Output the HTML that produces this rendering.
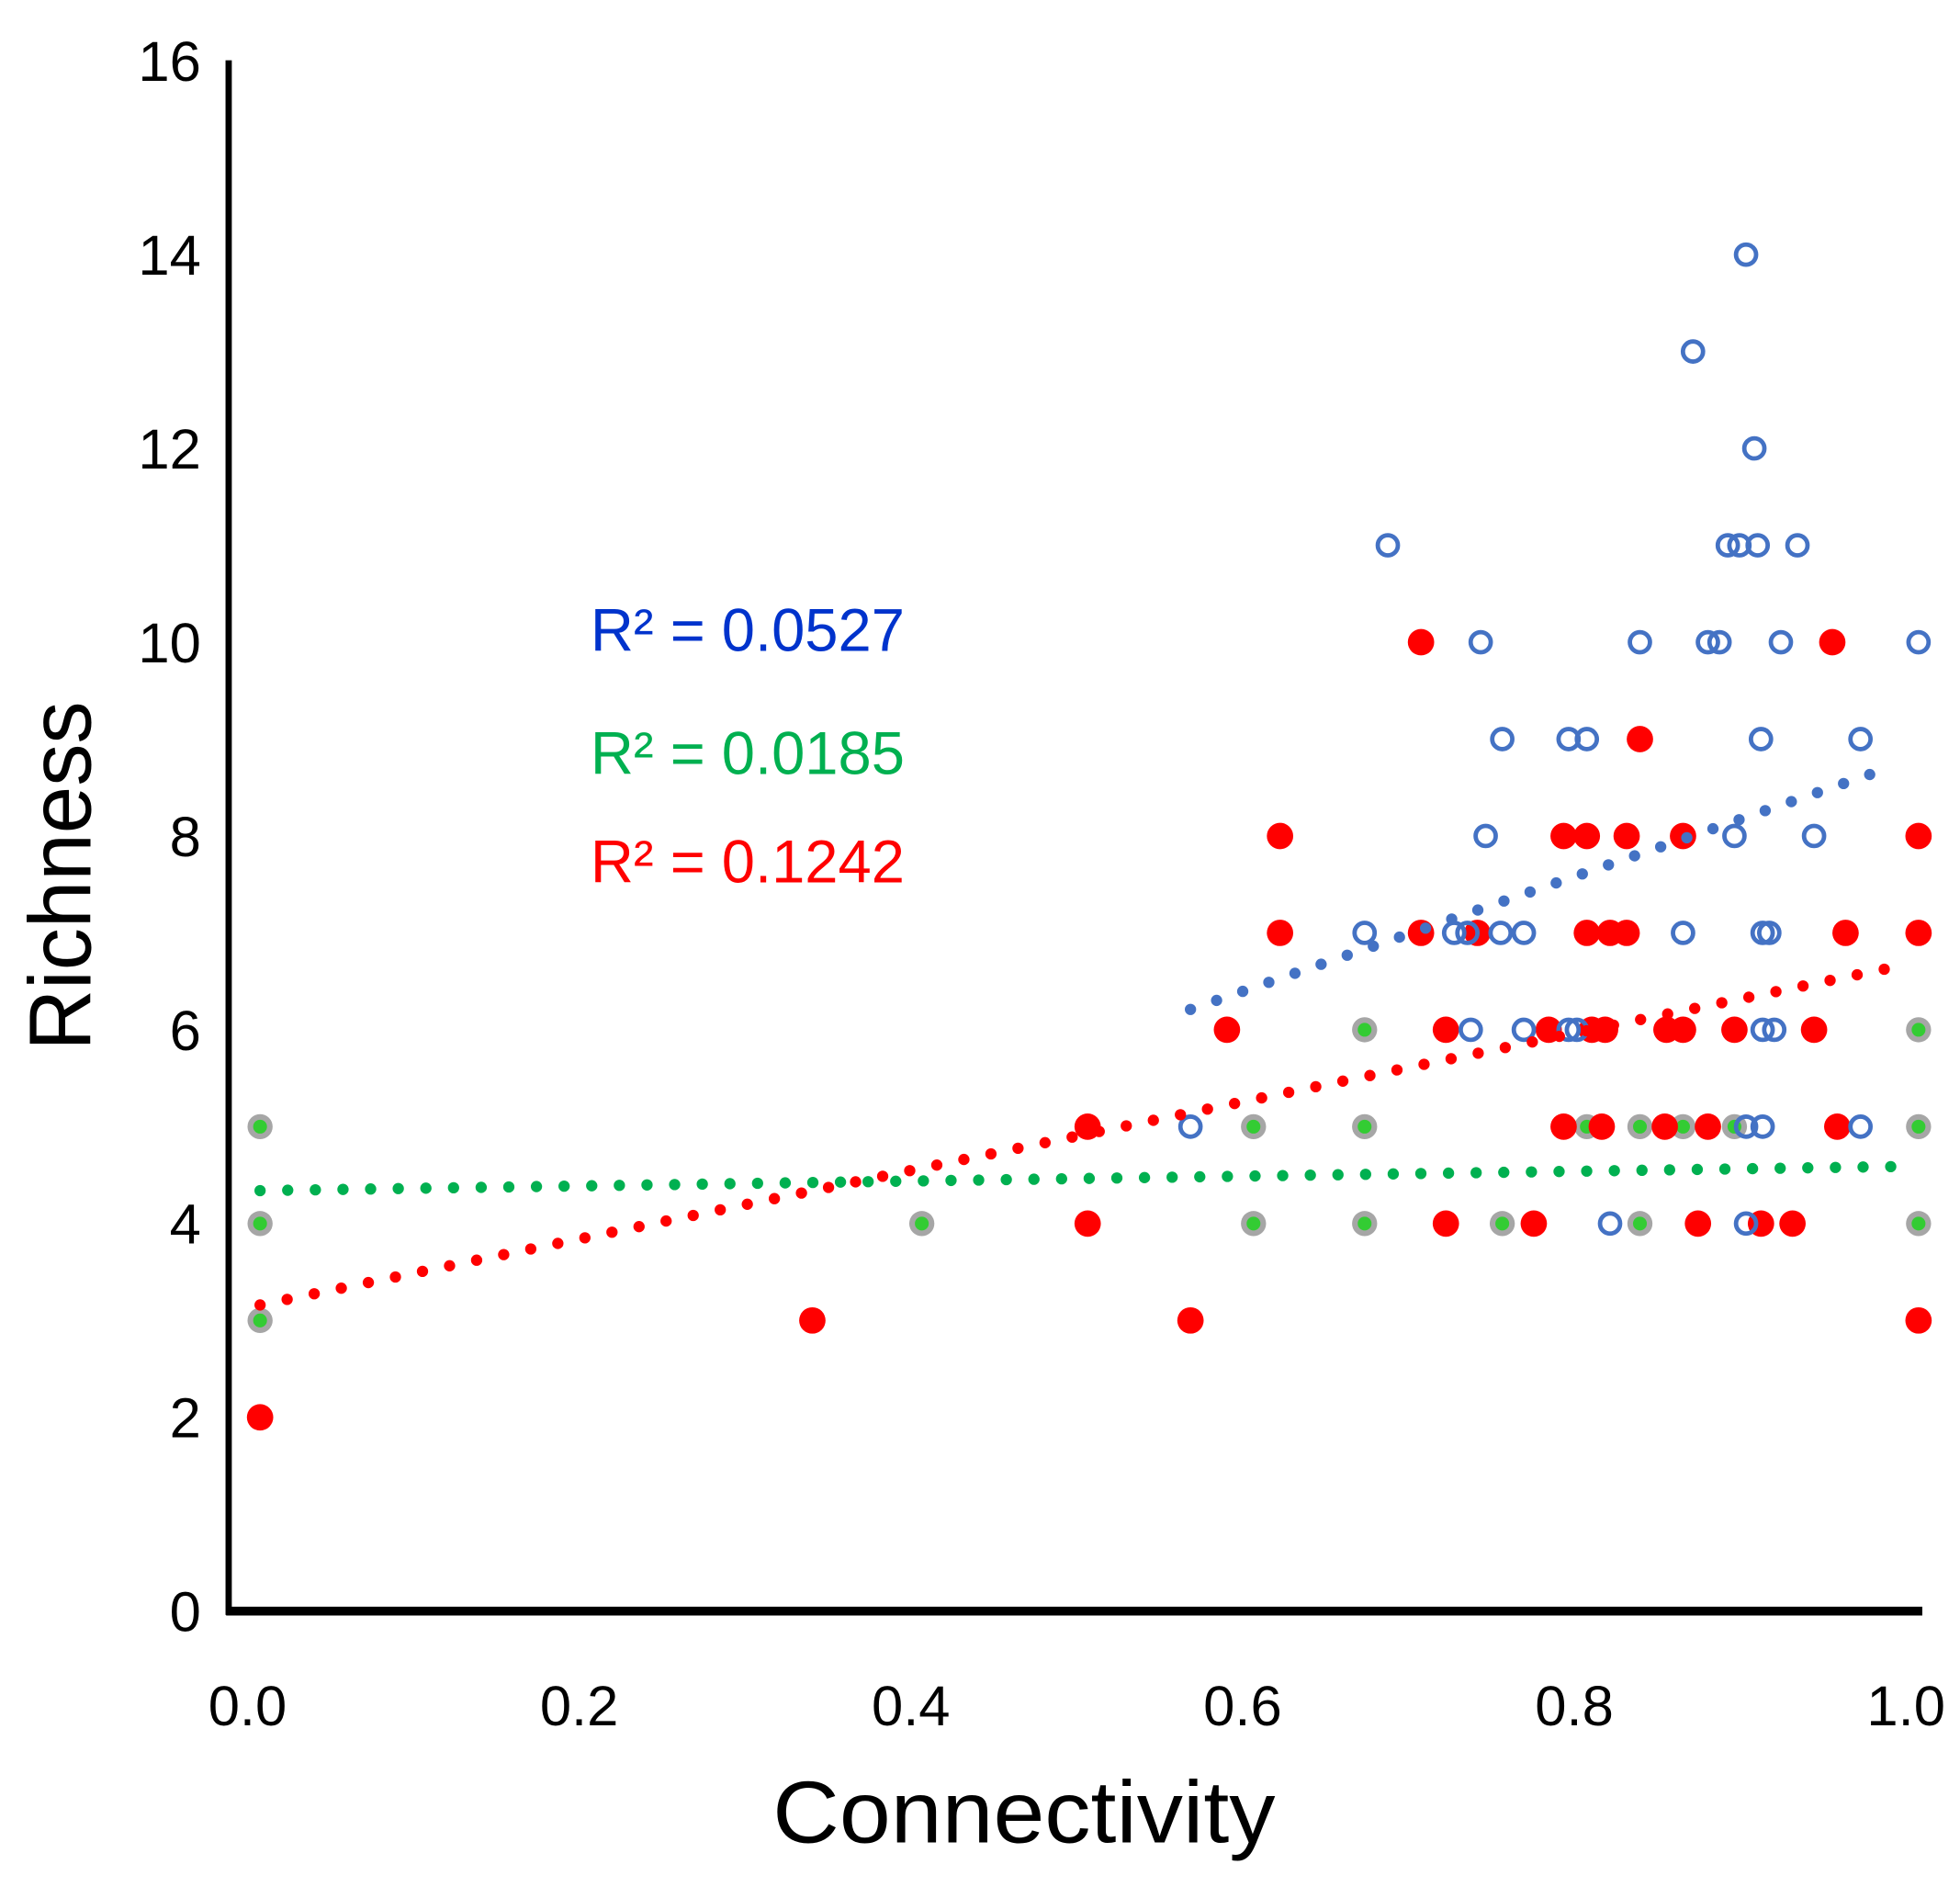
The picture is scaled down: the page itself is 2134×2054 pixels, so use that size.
<!DOCTYPE html>
<html><head><meta charset="utf-8"><style>
html,body{margin:0;padding:0;background:#fff;}
svg{display:block;}
text{font-family:"Liberation Sans",sans-serif;}
</style></head><body>
<svg id="chart" width="2134" height="2054" viewBox="0 0 1560 1501.5" xmlns="http://www.w3.org/2000/svg">
<g id="axes"></g>
<g id="marks"></g>
<text x="470" y="518" font-size="48" fill="#0033cc" textLength="250" lengthAdjust="spacingAndGlyphs">R² = 0.0527</text>
<text x="470" y="616" font-size="48" fill="#00b050" textLength="250" lengthAdjust="spacingAndGlyphs">R² = 0.0185</text>
<text x="470" y="702" font-size="48" fill="#ff0000" textLength="250" lengthAdjust="spacingAndGlyphs">R² = 0.1242</text>
<text x="815" y="1466" font-size="70" text-anchor="middle" textLength="400" lengthAdjust="spacingAndGlyphs">Connectivity</text>
<text transform="translate(72,697) rotate(-90)" font-size="70" text-anchor="middle" textLength="278" lengthAdjust="spacingAndGlyphs">Richness</text>
</svg>
<script>
const xTicks = [0.0, 0.2, 0.4, 0.6, 0.8, 1.0];
const xTickLabels = ["0.0","0.2","0.4","0.6","0.8","1.0"];
const yTicks = [0,2,4,6,8,10,12,14,16];
const blueX = [0.896,0.864,0.901,0.680,0.885,0.892,0.903,0.927,0.736,0.832,0.873,0.880,0.917,1.0,0.749,0.789,0.800,0.905,0.965,0.739,0.889,0.937,0.666,0.720,0.728,0.748,0.762,0.858,0.906,0.910,0.730,0.762,0.789,0.794,0.906,0.913,0.561,0.896,0.906,0.965,0.814,0.896];
const blueY = [14,13,12,11,11,11,11,11,10,10,10,10,10,10,9,9,9,9,9,8,8,8,7,7,7,7,7,7,7,7,6,6,6,6,6,6,5,5,5,5,4,4];
const redX = [0.700,0.948,0.832,0.615,0.786,0.800,0.824,0.858,1.0,0.615,0.700,0.734,0.800,0.814,0.824,0.956,1.0,0.583,0.715,0.777,0.803,0.811,0.848,0.858,0.889,0.937,0.499,0.786,0.809,0.847,0.873,0.951,0.499,0.715,0.768,0.867,0.905,0.924,0.333,0.561,1.0,0.0];
const redY = [10,10,9,8,8,8,8,8,8,7,7,7,7,7,7,7,7,6,6,6,6,6,6,6,6,6,5,5,5,5,5,5,4,4,4,4,4,4,3,3,3,2];
const greenX = [0,0,0,0.666,1.0,0.499,0.599,0.666,0.800,0.832,0.858,0.889,1.0,0.399,0.599,0.666,0.749,0.832,1.0];
const greenY = [5,4,3,6,6,5,5,5,5,5,5,5,5,4,4,4,4,4,4];
const blueTrendX = [0.561,0.985];
const blueTrendY = [6.21,8.72];
const redTrendX = [0.0,0.992];
const redTrendY = [3.16,6.67];
const greenTrendX = [0.0,0.992];
const greenTrendY = [4.34,4.59];

const NS = "http://www.w3.org/2000/svg";
const X0 = 207, XS = 1320, Y0 = 1282, YS = 77.1;
function sx(v){ return X0 + v*XS; }
function sy(v){ return Y0 - v*YS; }
function mk(tag, attrs, parent){
  const e = document.createElementNS(NS, tag);
  for (const k in attrs) e.setAttribute(k, attrs[k]);
  parent.appendChild(e);
  return e;
}
const axes = document.getElementById('axes');
const marks = document.getElementById('marks');

let l = mk('line',{x1:182,y1:48,x2:182,y2:1285,stroke:'#000','stroke-width':5},axes);


l = mk('line',{x1:180,y1:1282,x2:1530,y2:1282,stroke:'#000','stroke-width':7},axes);



yTicks.forEach(v=>{
  const t = mk('text',{x:160,y:sy(v)+16,'font-size':45,'text-anchor':'end'},axes);
  t.textContent = String(v);
  
  
});
xTicks.forEach((v,i)=>{
  const t = mk('text',{x:sx(v)-10,y:1373,'font-size':45,'text-anchor':'middle'},axes);
  t.textContent = xTickLabels[i];
  
  
});

function trend(xs, ys, color, name){
  const p = mk('line',{x1:sx(xs[0]),y1:sy(ys[0]),x2:sx(xs[1]),y2:sy(ys[1]),stroke:color,'stroke-width':9,'stroke-linecap':'round','stroke-dasharray':'0 22'},marks);
  
  
}

greenX.forEach((x,i)=>{
  const g = mk('g',{},marks);
  
  
  mk('circle',{cx:sx(x),cy:sy(greenY[i]),r:10,fill:'#a6a6a6'},g);
  mk('circle',{cx:sx(x),cy:sy(greenY[i]),r:5.5,fill:'#33cc33'},g);
});
redX.forEach((x,i)=>{
  const c = mk('circle',{cx:sx(x),cy:sy(redY[i]),r:10.5,fill:'#ff0000'},marks);
  
  
});
blueX.forEach((x,i)=>{
  const c = mk('circle',{cx:sx(x),cy:sy(blueY[i]),r:8,fill:'none',stroke:'#4472c4','stroke-width':3.5},marks);
  
  
});
trend(greenTrendX, greenTrendY, '#00b050', 'green-trendline');
trend(redTrendX, redTrendY, '#ff0000', 'red-trendline');
trend(blueTrendX, blueTrendY, '#4472c4', 'blue-trendline');
</script>
</body></html>
